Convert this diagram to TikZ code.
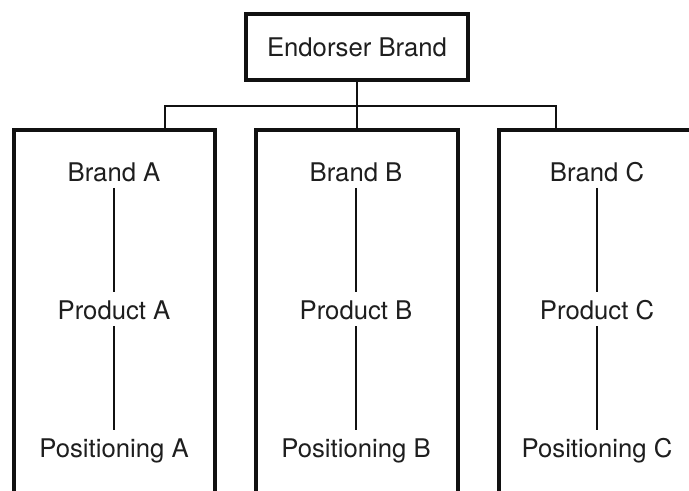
\documentclass[tikz,border=0pt]{standalone}
\usepackage{fontspec}
\setmainfont{TeX Gyre Heros}
\definecolor{ink}{HTML}{111111}
\definecolor{txt}{HTML}{1E1E1E}
\begin{document}
\begin{tikzpicture}[x=1bp,y=-1bp,
  frame/.style={draw=ink, line width=3.4bp, inner sep=0pt, minimum width=#1, minimum height=370bp},
  topbox/.style={draw=ink, line width=3.2bp, inner sep=0pt, minimum width=222bp, minimum height=66bp,
     font=\fontsize{25.8}{30}\selectfont, text=txt},
  label/.style={inner sep=0pt, text height=18.5bp, text depth=0pt, anchor=south,
     font=\fontsize{25.8}{30}\selectfont, text=txt},
  conn/.style={draw=ink, line width=2.2bp},
  vline/.style={draw=ink, line width=2.6bp, shorten <=6bp, shorten >=9bp}]
\useasboundingbox (0,0) rectangle (689,491);
\fill[white] (0,0) rectangle (689,491);
\clip (0,0) rectangle (689,491);

\node[topbox] (endorser) at (357,47) {Endorser Brand};

\node[frame=201bp] (boxA) at (114.5,315) {};
\node[frame=202bp] (boxB) at (357,315) {};
\node[frame=202bp] (boxC) at (600,315) {};

\node[label] (brandA) at (114,182) {Brand A};
\node[label] (prodA)  at (114,320) {Product A};
\node[label] (posA)   at (114,458) {Positioning A};

\node[label] (brandB) at (356,182) {Brand B};
\node[label] (prodB)  at (356,320) {Product B};
\node[label] (posB)   at (356,458) {Positioning B};

\node[label] (brandC) at (597,182) {Brand C};
\node[label] (prodC)  at (597,320) {Product C};
\node[label] (posC)   at (597,458) {Positioning C};

\draw[vline] (brandA.south) -- (prodA.north);
\draw[vline] (prodA.south) -- (posA.north);
\draw[vline] (brandB.south) -- (prodB.north);
\draw[vline] (prodB.south) -- (posB.north);
\draw[vline] (brandC.south) -- (prodC.north);
\draw[vline] (prodC.south) -- (posC.north);

\coordinate (busL) at (165,106);
\coordinate (busR) at (556,106);
\draw[conn] (endorser.south) -- (boxB.north);
\draw[conn] (boxA.north -| busL) -- (busL) -- (busR) -- (busR |- boxC.north);
\end{tikzpicture}
\end{document}
